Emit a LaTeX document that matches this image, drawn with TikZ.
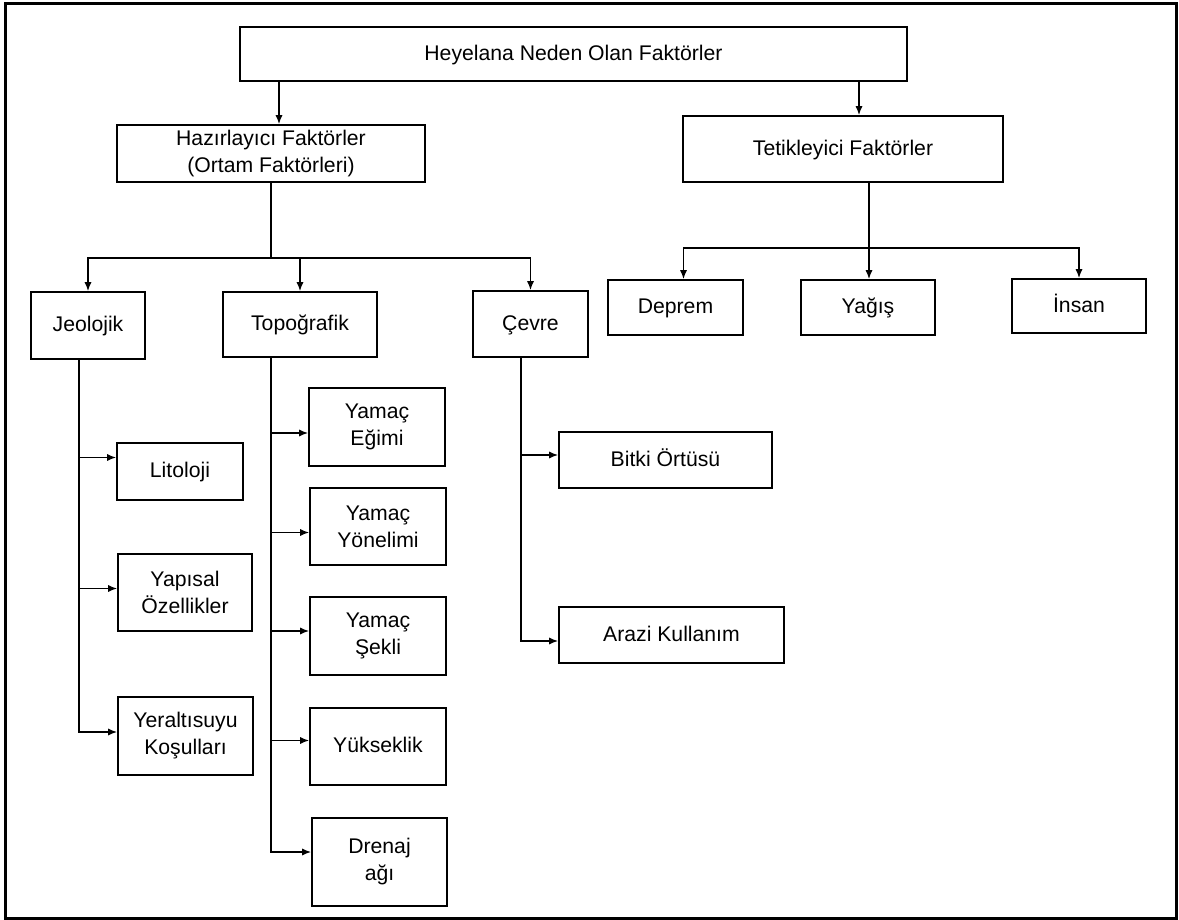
\documentclass[tikz,border=0pt]{standalone}
\usepackage{fontspec}
\setmainfont{Liberation Sans}
\usetikzlibrary{arrows.meta}

\begin{document}
\begin{tikzpicture}[
  x=0.5pt, y=-0.5pt,
  font=\fontsize{10.6}{13.5}\selectfont,
  >={Latex[length=4.5pt,width=3.6pt]},
  kutu/.style={draw=black, line width=0.9pt, inner sep=1pt, align=center},
  tek/.style={kutu, text height=1.6ex, text depth=0.45ex},
  bag/.style={draw=black, line width=0.7pt},
  okbag/.style={->, draw=black, line width=0.7pt}
]
  \useasboundingbox (0,0) rectangle (1179,920);
  \draw[line width=1.5pt] (5.5,4) rectangle (1176,918);

  % top levels
  \node[tek, minimum width=333.5pt, minimum height=27pt] (heyelan) at (573.5,54) {Heyelana Neden Olan Faktörler};
  \node[kutu, minimum width=154pt, minimum height=28.5pt] (hazir) at (271,153.5) {Hazırlayıcı Faktörler\\(Ortam Faktörleri)};
  \node[tek, minimum width=160pt, minimum height=33pt] (tetik) at (843,149) {Tetikleyici Faktörler};

  \node[tek, minimum width=57pt, minimum height=33.5pt] (jeo) at (88,325.5) {Jeolojik};
  \node[tek, minimum width=77pt, minimum height=32.5pt] (topo) at (300,324.5) {Topoğrafik};
  \node[tek, minimum width=57.5pt, minimum height=33pt] (cevre) at (530.5,324) {Çevre};

  \node[tek, minimum width=67.5pt, minimum height=27.5pt] (deprem) at (675.5,307.5) {Deprem};
  \node[tek, minimum width=67pt, minimum height=27.5pt] (yagis) at (868,307.5) {Yağış};
  \node[tek, minimum width=67pt, minimum height=27pt] (insan) at (1079,306) {İnsan};

  % jeolojik
  \node[tek, minimum width=63pt, minimum height=28.5pt] (lito) at (180,471.5) {Litoloji};
  \node[kutu, minimum width=67pt, minimum height=38.5pt] (yapi) at (185,592.5) {Yapısal\\Özellikler};
  \node[kutu, minimum width=67.5pt, minimum height=39pt] (yeralti) at (185.5,736) {Yeraltısuyu\\Koşulları};

  % topografik
  \node[kutu, minimum width=68pt, minimum height=39pt] (egim) at (377,427) {Yamaç\\Eğimi};
  \node[kutu, minimum width=68pt, minimum height=38.5pt] (yonelim) at (378,526.5) {Yamaç\\Yönelimi};
  \node[kutu, minimum width=68pt, minimum height=39pt] (sekil) at (378,636) {Yamaç\\Şekli};
  \node[tek, minimum width=68pt, minimum height=38.5pt] (yuks) at (378,746.5) {Yükseklik};
  \node[kutu, minimum width=67.5pt, minimum height=44pt] (drenaj) at (379.5,862) {Drenaj\\ağı};

  % cevre
  \node[tek, minimum width=106.5pt, minimum height=28pt] (bitki) at (665.5,460) {Bitki Örtüsü};
  \node[tek, minimum width=112.5pt, minimum height=28pt] (arazi) at (671.5,635) {Arazi Kullanım};

  % connectors
  \draw[okbag] ([xshift=4pt]hazir.north |- heyelan.south) -- ([xshift=4pt]hazir.north);
  \draw[okbag] ([xshift=8pt]tetik.north |- heyelan.south) -- ([xshift=8pt]tetik.north);

  \draw[bag] (hazir.south) -- ++(0,75) coordinate (hbus);
  \draw[okbag] (hbus) -| (jeo.north);
  \draw[okbag] (hbus) -| (topo.north);
  \draw[okbag] (hbus) -| (cevre.north);

  \draw[bag] ([xshift=13pt]tetik.south) -- ++(0,65) coordinate (tbus);
  \draw[okbag] (tbus) -| ([xshift=4pt]deprem.north);
  \draw[okbag] (tbus) -- (tbus |- yagis.north);
  \draw[okbag] (tbus) -| (insan.north);

  \draw[okbag] ([xshift=-4.5pt]jeo.south) |- ([yshift=7pt]lito.west);
  \draw[okbag] ([xshift=-4.5pt]jeo.south) |- ([yshift=2pt]yapi.west);
  \draw[okbag] ([xshift=-4.5pt]jeo.south) |- ([yshift=2pt]yeralti.west);

  \draw[okbag] ([xshift=-14.5pt]topo.south) |- ([yshift=-3pt]egim.west);
  \draw[okbag] ([xshift=-14.5pt]topo.south) |- ([yshift=-3pt]yonelim.west);
  \draw[okbag] ([xshift=-14.5pt]topo.south) |- ([yshift=2.5pt]sekil.west);
  \draw[okbag] ([xshift=-14.5pt]topo.south) |- ([yshift=3pt]yuks.west);
  \draw[okbag] ([xshift=-14.5pt]topo.south) |- ([yshift=5pt]drenaj.west);

  \draw[okbag] ([xshift=-4.75pt]cevre.south) |- ([yshift=2.5pt]bitki.west);
  \draw[okbag] ([xshift=-4.75pt]cevre.south) |- ([yshift=-3pt]arazi.west);
\end{tikzpicture}
\end{document}
